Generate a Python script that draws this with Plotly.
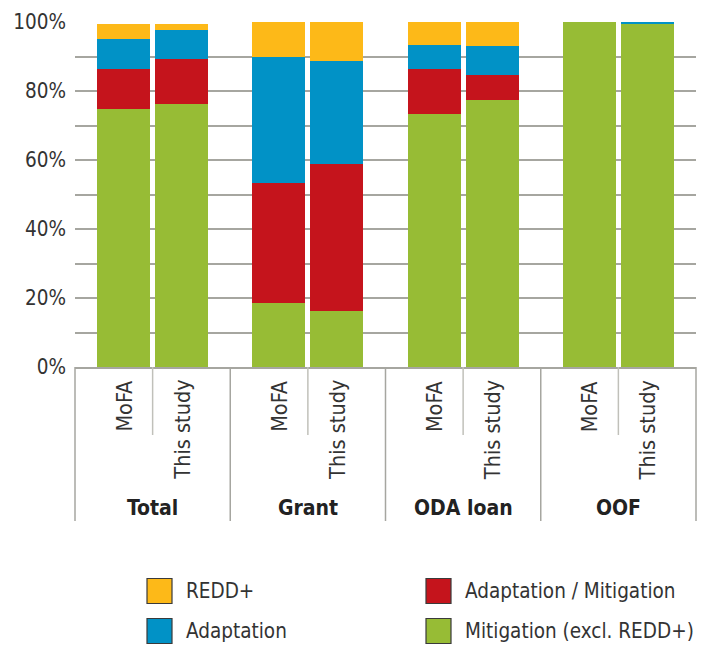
import plotly.graph_objects as go

# ---- data (percent shares) ----
groups = ["Total", "Grant", "ODA loan", "OOF"]
sources = ["MoFA", "This study"]

mitigation = [74.8, 76.3, 18.5, 16.2, 73.4, 77.4, 100.0, 99.6]
adapt_mit = [11.6, 13.1, 34.8, 42.7, 13.0, 7.3, 0.0, 0.0]
adaptation = [8.8, 8.4, 36.6, 29.9, 7.0, 8.4, 0.0, 0.4]
redd = [4.3, 1.7, 10.1, 11.2, 6.6, 6.9, 0.0, 0.0]

y_ticks = [0, 20, 40, 60, 80, 100]
y_tick_labels = ["0%", "20%", "40%", "60%", "80%", "100%"]

series = [
    ("Mitigation (excl. REDD+)", mitigation, "#97bc35"),
    ("Adaptation / Mitigation", adapt_mit, "#c5141c"),
    ("Adaptation", adaptation, "#0192c6"),
    ("REDD+", redd, "#fdb918"),
]

# ---- layout constants ----
W, H = 706, 650
ML, MR, MT, MB = 75, 10, 22, 283
INNER = 0.187   # half distance between the two bars of a group
BARW = 0.341
XMIN, XMAX = -0.5, len(groups) - 0.5
FONT = "DejaVu Sans Condensed, Liberation Sans Narrow, Arial Narrow, sans-serif"
TXT = "#333333"
GRID = "#a6a6a0"

xpos = []
for gi, g in enumerate(groups):
    for si, s in enumerate(sources):
        xpos.append(gi + (si - 0.5) * 2 * INNER)

fig = go.Figure()
for name, vals, col in series:
    fig.add_trace(go.Bar(
        x=xpos, y=vals, name=name, width=BARW,
        marker=dict(color=col, line=dict(width=0)),
        showlegend=False,
    ))

plot_h = H - MT - MB
plot_w = W - ML - MR


def py(pix):
    """page pixel y -> paper y"""
    return (H - MB - pix) / plot_h


def px(pix):
    """page pixel x -> paper x"""
    return (pix - ML) / plot_w


def xp(v):
    return (v - XMIN) / (XMAX - XMIN)


shapes = []
annotations = []

# category divider lines below the axis
for gi in range(len(groups) + 1):
    xv = xp(gi - 0.5)
    shapes.append(dict(type="line", xref="paper", yref="paper",
                       x0=xv, x1=xv, y0=0, y1=py(521),
                       line=dict(color=GRID, width=1.5)))
for gi in range(len(groups)):
    xv = xp(gi)
    shapes.append(dict(type="line", xref="paper", yref="paper",
                       x0=xv, x1=xv, y0=0, y1=py(435),
                       line=dict(color="#c0c0ba", width=1.5)))

# rotated source labels
for i, xv in enumerate(xpos):
    annotations.append(dict(
        x=xv, y=py(378), xref="x", yref="paper",
        text=sources[i % 2], textangle=-90, showarrow=False,
        xanchor="center", yanchor="top",
        font=dict(family=FONT, size=21.5, color=TXT)))

# group labels
for gi, g in enumerate(groups):
    annotations.append(dict(
        x=gi, y=py(508), xref="x", yref="paper",
        text="<b>" + g + "</b>", showarrow=False,
        xanchor="center", yanchor="middle",
        font=dict(family=FONT, size=21, color="#222222")))

# legend (manual, large swatches)
legend_items = [
    ("REDD+", "#fdb918", 147, 591),
    ("Adaptation", "#0192c6", 147, 631),
    ("Adaptation / Mitigation", "#c5141c", 426, 591),
    ("Mitigation (excl. REDD+)", "#97bc35", 426, 631),
]
for name, col, lx, ly in legend_items:
    shapes.append(dict(type="rect", xref="paper", yref="paper",
                       x0=px(lx), x1=px(lx + 25), y0=py(ly - 12.5), y1=py(ly + 12.5),
                       fillcolor=col, line=dict(color="#3a3a3a", width=1.2)))
    annotations.append(dict(
        x=px(lx + 37), y=py(ly), xref="paper", yref="paper",
        text=name, showarrow=False, xanchor="left", yanchor="middle",
        font=dict(family=FONT, size=20.5, color=TXT)))

fig.update_layout(
    width=W, height=H,
    margin=dict(l=ML, r=MR, t=MT, b=MB, pad=0),
    barmode="stack",
    paper_bgcolor="white", plot_bgcolor="white",
    font=dict(family=FONT, color=TXT),
    shapes=shapes, annotations=annotations,
    showlegend=False,
    xaxis=dict(range=[XMIN, XMAX], showticklabels=False, showgrid=False,
               zeroline=False, showline=True, linecolor=GRID, linewidth=2,
               ticks=""),
    yaxis=dict(range=[0, 100], tickvals=y_ticks, ticktext=y_tick_labels,
               showgrid=True, gridcolor=GRID, gridwidth=1.5,
               zeroline=False, showline=False, ticks="",
               ticklabelstandoff=8,
               tickfont=dict(family=FONT, size=20.5, color=TXT),
               minor=dict(dtick=10, tick0=0, showgrid=True,
                          gridcolor=GRID, gridwidth=1.5)),
)

fig.write_html(
    "out.html",
    config={"displayModeBar": False},
    post_script="document.body.style.margin='0';document.body.style.overflow='hidden';",
)
